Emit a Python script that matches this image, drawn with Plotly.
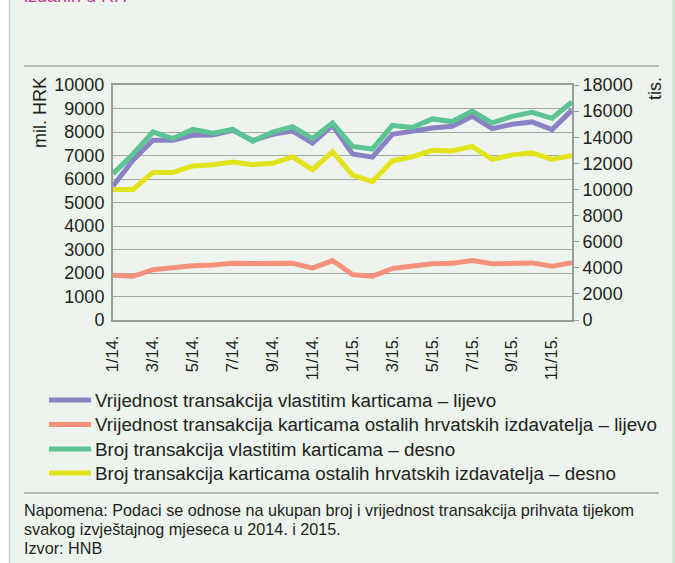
import plotly.graph_objects as go

months = ["1/14.", "2/14.", "3/14.", "4/14.", "5/14.", "6/14.", "7/14.", "8/14.", "9/14.", "10/14.", "11/14.", "12/14.",
          "1/15.", "2/15.", "3/15.", "4/15.", "5/15.", "6/15.", "7/15.", "8/15.", "9/15.", "10/15.", "11/15.", "12/15."]
tick_labels = ["1/14.", "3/14.", "5/14.", "7/14.", "9/14.", "11/14.",
               "1/15.", "3/15.", "5/15.", "7/15.", "9/15.", "11/15."]

# left axis (mil. HRK)
value_own = [5700, 6800, 7650, 7650, 7860, 7870, 8070, 7640, 7900, 8040, 7530, 8280,
             7070, 6930, 7900, 8030, 8170, 8240, 8670, 8140, 8330, 8430, 8100, 8930]
value_other = [1900, 1860, 2140, 2240, 2310, 2340, 2410, 2400, 2400, 2410, 2210, 2530,
               1930, 1860, 2190, 2300, 2390, 2410, 2530, 2390, 2410, 2430, 2290, 2440]
# right axis (tis.)
count_own = [11200, 12700, 14400, 13900, 14600, 14300, 14600, 13700, 14400, 14800, 13900, 15100,
             13300, 13100, 14900, 14750, 15400, 15200, 16000, 15100, 15600, 15900, 15450, 16700]
count_other = [10000, 10000, 11300, 11300, 11800, 11900, 12100, 11900, 12000, 12500, 11500, 12900,
               11100, 10600, 12200, 12500, 13000, 12950, 13300, 12300, 12650, 12800, 12300, 12600]

names = ["Vrijednost transakcija vlastitim karticama – lijevo",
         "Vrijednost transakcija karticama ostalih hrvatskih izdavatelja – lijevo",
         "Broj transakcija vlastitim karticama – desno",
         "Broj transakcija karticama ostalih hrvatskih izdavatelja – desno"]
colors = ["#8b82c6", "#f7917b", "#5cc393", "#e3e31b"]

W, H = 675, 563
ML, MR, MT, MB = 113, 103, 85, 243
PW, PH = W - ML - MR, H - MT - MB


def px(x):
    return (x - ML) / PW


def py(y):
    return (H - MB - y) / PH


BG = "#edf4ee"
FONT = "Liberation Sans, Arial, sans-serif"
TXT = "#231f20"

fig = go.Figure()
series = [(value_own, "y"), (value_other, "y"), (count_own, "y2"), (count_other, "y2")]
for i, (vals, ax) in enumerate(series):
    fig.add_trace(go.Scatter(x=months, y=vals, mode="lines", name=names[i], yaxis=ax,
                             line=dict(color=colors[i], width=5), showlegend=False))

shapes = [
    dict(type="rect", xref="paper", yref="paper", x0=px(9), x1=px(673), y0=py(H), y1=py(0),
         fillcolor=BG, line=dict(width=0), layer="below"),
    dict(type="line", xref="paper", yref="paper", x0=px(9.5), x1=px(9.5), y0=py(H), y1=py(0),
         line=dict(color="#bfe0c8", width=1.5)),
    dict(type="line", xref="paper", yref="paper", x0=px(673.5), x1=px(673.5), y0=py(H), y1=py(0),
         line=dict(color="#c6e3ce", width=2)),
    dict(type="line", xref="paper", yref="paper", x0=px(24), x1=px(659), y0=py(66), y1=py(66),
         line=dict(color="#a9aca9", width=1.5)),
    dict(type="line", xref="paper", yref="paper", x0=px(24), x1=px(659), y0=py(493), y1=py(493),
         line=dict(color="#a9aca9", width=1.5)),
]

annotations = [
    dict(text="izdanih u RH", xref="paper", yref="paper", x=px(22), y=py(8), xanchor="left",
         yanchor="bottom", showarrow=False, font=dict(family=FONT, size=18, color="#c23b97")),
    dict(text="mil. HRK", xref="paper", yref="paper", x=px(40), y=py(113), textangle=-90,
         xanchor="center", yanchor="middle", showarrow=False, font=dict(family=FONT, size=18, color=TXT)),
    dict(text="tis.", xref="paper", yref="paper", x=px(655), y=py(89), textangle=-90,
         xanchor="center", yanchor="middle", showarrow=False, font=dict(family=FONT, size=18, color=TXT)),
    dict(text="Napomena: Podaci se odnose na ukupan broj i vrijednost transakcija prihvata tijekom",
         xref="paper", yref="paper", x=px(22), y=py(510), xanchor="left", yanchor="middle",
         showarrow=False, font=dict(family=FONT, size=16.2, color=TXT)),
    dict(text="svakog izvještajnog mjeseca u 2014. i 2015.",
         xref="paper", yref="paper", x=px(22), y=py(529), xanchor="left", yanchor="middle",
         showarrow=False, font=dict(family=FONT, size=16.2, color=TXT)),
    dict(text="Izvor: HNB",
         xref="paper", yref="paper", x=px(22), y=py(548), xanchor="left", yanchor="middle",
         showarrow=False, font=dict(family=FONT, size=16.2, color=TXT)),
]

# legend: line sample + label for each series
legend_rows = [400, 424.5, 449, 473]
for i, name in enumerate(names):
    yy = py(legend_rows[i])
    shapes.append(dict(type="line", xref="paper", yref="paper", x0=px(49), x1=px(91), y0=yy, y1=yy,
                       line=dict(color=colors[i], width=5)))
    annotations.append(dict(text=name, xref="paper", yref="paper", x=px(93), y=yy, xanchor="left",
                            yanchor="middle", showarrow=False,
                            font=dict(family=FONT, size=18.8, color=TXT)))

fig.update_layout(
    width=W, height=H,
    margin=dict(l=ML, r=MR, t=MT, b=MB, pad=0),
    paper_bgcolor="white", plot_bgcolor="rgba(0,0,0,0)",
    font=dict(family=FONT, size=18, color=TXT),
    shapes=shapes, annotations=annotations,
    showlegend=False,
    xaxis=dict(type="category", categoryorder="array", categoryarray=months,
               tickmode="array", tickvals=tick_labels, ticktext=tick_labels, tickangle=-90,
               showgrid=False, showline=True, linecolor="#9a9c9a", linewidth=2, mirror=True,
               ticks="", tickfont=dict(size=16.5, color=TXT), ticklabelstandoff=7),
    yaxis=dict(range=[0, 10000], dtick=1000, tickformat="d", showgrid=True, gridcolor="#a3a6a3",
               gridwidth=1.2, showline=True, linecolor="#9a9c9a", linewidth=2, ticks="",
               zeroline=False, tickfont=dict(size=18, color=TXT), ticklabelstandoff=3),
    yaxis2=dict(range=[0, 18000], dtick=2000, tickformat="d", overlaying="y", side="right",
                showgrid=False, showline=True, linecolor="#9a9c9a", linewidth=2, ticks="outside",
                ticklen=5, tickcolor="#9a9c9a", zeroline=False, tickfont=dict(size=18, color=TXT),
                ticklabelstandoff=0),
)

fig.write_html("out.html", config={"displayModeBar": False},
               post_script="document.body.style.margin='0px';document.body.style.overflow='hidden';")
